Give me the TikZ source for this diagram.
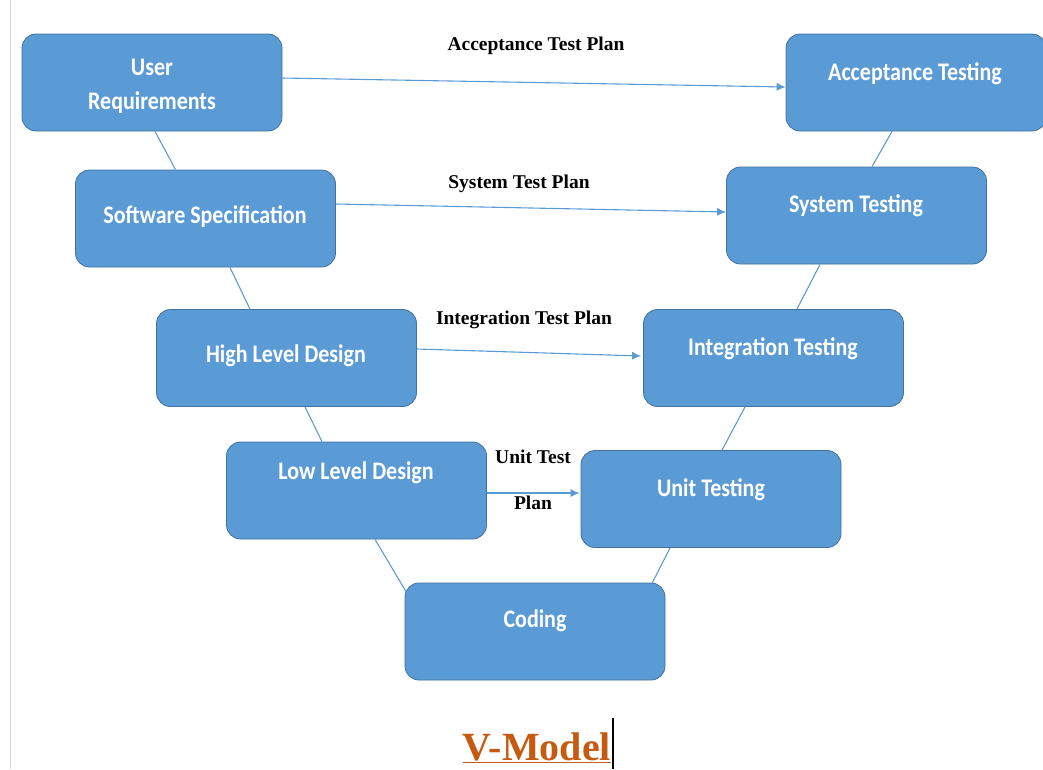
\documentclass[tikz,border=0pt]{standalone}
\usepackage{fontspec}
\usepackage{graphicx}
\setmainfont{Liberation Serif}
\newfontfamily\boxfont{Carlito}
\usetikzlibrary{arrows.meta,calc}

\definecolor{boxfill}{HTML}{5B9BD5}
\definecolor{boxline}{HTML}{41719C}
\definecolor{linkblue}{HTML}{5B9BD5}
\definecolor{titleorange}{HTML}{C55A11}
\definecolor{margingray}{HTML}{D4D4D4}

\newcommand{\stretchtext}[1]{\scalebox{1}[1.15]{#1}}

\tikzset{
  phase/.style={draw=boxline, line width=0.8pt, fill=boxfill, rounded corners=14pt,
                minimum width=260pt, minimum height=97pt, inner sep=0pt},
  phasetext/.style={text=white, font=\boxfont\bfseries\fontsize{22}{36}\selectfont,
                    align=center, inner sep=0pt},
  vlink/.style={draw=linkblue, line width=1.1pt},
  planlink/.style={draw=linkblue, line width=1.1pt, -{Latex[length=9pt,width=8pt]}},
  plantext/.style={font=\bfseries\fontsize{19.5}{24}\selectfont, inner sep=0pt}
}

\begin{document}
\begin{tikzpicture}[x=1pt,y=-1pt]
\useasboundingbox (0,0) rectangle (1043,769);

% page margin rule
\draw[margingray, line width=1pt] (10,0) -- (10,769);

% left arm of the V
\node[phase] (ur)  at (152,82.5)  {};
\node[phase] (ss)  at (205.5,218.5) {};
\node[phase] (hld) at (286.5,358) {};
\node[phase] (lld) at (356.5,490.5) {};
% bottom
\node[phase] (cod) at (535,631.5) {};
% right arm of the V
\node[phase] (ut)  at (711,499) {};
\node[phase] (it)  at (773.5,358) {};
\node[phase] (st)  at (856.5,215.5) {};
\node[phase] (at)  at (916,82.5) {};

% phase titles
\node[phasetext] at (152,86) {\stretchtext{User}\\[-2pt]\stretchtext{Requirements}};
\node[phasetext] at (205,217) {\stretchtext{Software Specification}};
\node[phasetext] at (286,356) {\stretchtext{High Level Design}};
\node[phasetext] at (356,473) {\stretchtext{Low Level Design}};
\node[phasetext] at (535,621) {\stretchtext{Coding}};
\node[phasetext] at (711,490) {\stretchtext{Unit Testing}};
\node[phasetext] at (773,349) {\stretchtext{Integration Testing}};
\node[phasetext] at (856,206) {\stretchtext{System Testing}};
\node[phasetext] at (915,74) {\stretchtext{Acceptance Testing}};

% V connections
\draw[vlink] ([shift={(3,0)}]ur.south) -- ([shift={(-30,0)}]ss.north);
\draw[vlink] ([shift={(24.5,0)}]ss.south) -- ([shift={(-36.5,0)}]hld.north);
\draw[vlink] ([shift={(18.5,0)}]hld.south) -- ([shift={(-34.5,0)}]lld.north);
\draw[vlink] ([shift={(18.5,0)}]lld.south) -- ([shift={(2,10)}]cod.north west);
\draw[vlink] ([shift={(-13,0)}]cod.north east) -- ([shift={(-41,0)}]ut.south);
\draw[vlink] ([shift={(11,0)}]ut.north) -- ([shift={(-28.5,0)}]it.south);
\draw[vlink] ([shift={(23.5,0)}]it.north) -- ([shift={(-36.5,0)}]st.south);
\draw[vlink] ([shift={(15.5,0)}]st.north) -- ([shift={(-24,0)}]at.south);

% test plans
\draw[planlink] ([shift={(0,-4.5)}]ur.east) -- ([shift={(0,4.5)}]at.west);
\draw[planlink] ([shift={(0,-14.5)}]ss.east) -- ([shift={(0,-3.5)}]st.west);
\draw[planlink] ([shift={(0,-9)}]hld.east) -- ([shift={(-2,-2)}]it.west);
\draw[planlink] ([shift={(0,2.5)}]lld.east) -- ([shift={(-1,-6)}]ut.west);

\node[plantext] (accplan) at (536,46)  {Acceptance Test Plan};
\node[plantext] (sysplan) at (519,184) {System Test Plan};
\node[plantext] (intplan) at (524,320) {Integration Test Plan};
\node[plantext] (unitplan1) at (533,457) {Unit Test};
\node[plantext] (unitplan2) at (533,503) {Plan};

% caption
\node[text=titleorange, font=\bfseries\fontsize{40}{48}\selectfont, inner sep=0pt, anchor=base]
  (title) at (537,760) {\underline{V-Model}};
\draw[black, line width=1.2pt] (613,718) -- (613,769);
\end{tikzpicture}
\end{document}
